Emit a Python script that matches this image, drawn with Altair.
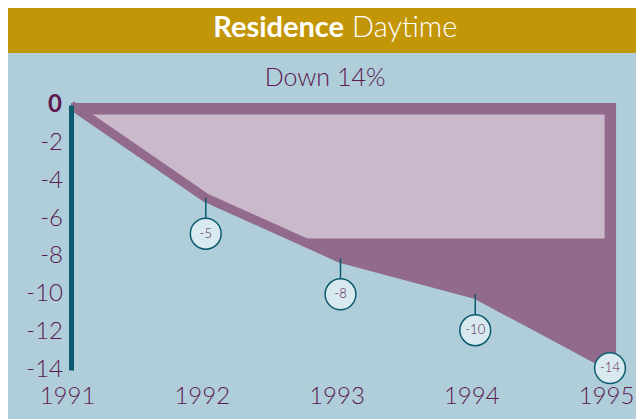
import altair as alt
import pandas as pd

# ---- data ----
years = [1991, 1992, 1993, 1994, 1995]
change = [0.0, -4.9, -8.1, -10.0, -13.8]
callout_labels = ["", "-5", "-8", "-10", "-14"]
y_ticks = [0, -2, -4, -6, -8, -10, -12, -14]
y_tick_labels = ["0", "-2", "-4", "-6", "-8", "-10", "-12", "-14"]
header_bold = "Residence"
header_light = "Daytime"
subtitle = "Down 14%"

# ---- styles ----
FONT = "Lato"
BG = "#AFCEDA"
GOLD = "#C29606"
DARK = "#916A8C"
LIGHT = "#CAB8CB"
TEAL = "#0B5A6E"
PURPLE = "#5C1A50"
CIRCLE_FILL = "#D8E9EF"

# decorative frame / inner panel extents (data units)
FRAME = {"year": 1991, "year2": 1995.045, "change": 0.1, "change2": -13.6}
INNER = {"year": 1991, "year2": 1994.96, "change": -0.5, "change2": -7.05}

df = pd.DataFrame({"year": years, "change": change, "label": callout_labels})
ticks_df = pd.DataFrame({"change": y_ticks, "txt": y_tick_labels})
one = pd.DataFrame({"k": [0]})

xs = alt.X("year:Q", title=None,
           scale=alt.Scale(domain=[1991, 1995], nice=False, zero=False),
           axis=alt.Axis(values=years, format="d", labelOffset=-4, labelFlush=False,
                         labelOverlap=False,
                         domain=False, ticks=False, grid=False, labelPadding=14))
ys = alt.Y("change:Q", title=None,
           scale=alt.Scale(domain=[-14, 0], nice=False),
           axis=alt.Axis(values=y_ticks, labels=False,
                         domain=True, domainColor=TEAL, domainWidth=5,
                         ticks=False, grid=False, zindex=1))

frame = alt.Chart(pd.DataFrame([FRAME])).mark_rect(color=DARK).encode(
    x=xs, x2="year2:Q", y=ys, y2="change2:Q")

inner = alt.Chart(pd.DataFrame([INNER])).mark_rect(color=LIGHT).encode(
    x=alt.X("year:Q", title=None), x2="year2:Q",
    y=alt.Y("change:Q", title=None), y2="change2:Q")

mask = alt.Chart(df).transform_calculate(floor="-14").mark_area(color=BG).encode(
    x=alt.X("year:Q", title=None), y=alt.Y("change:Q", title=None), y2="floor:Q")

band = alt.Chart(df).mark_line(color=DARK, strokeWidth=9, strokeCap="butt",
                               strokeJoin="bevel").encode(
    x=alt.X("year:Q", title=None), y=alt.Y("change:Q", title=None))

callouts = alt.Chart(df).transform_filter("datum.label != ''").transform_calculate(
    cy="datum.year == 1995 ? datum.change - 0.1 : datum.change - 1.9")

stems = callouts.mark_rule(color=TEAL, strokeWidth=1.5).encode(
    x=alt.X("year:Q", title=None), y=alt.Y("change:Q", title=None), y2="cy:Q")

circles = callouts.mark_circle(size=950, color=CIRCLE_FILL, stroke=TEAL,
                               strokeWidth=1.5, opacity=1).encode(
    x=alt.X("year:Q", title=None), y=alt.Y("cy:Q", title=None))

circle_text = callouts.mark_text(font=FONT, fontSize=13, fontWeight=300,
                                 color=PURPLE, baseline="middle").encode(
    x=alt.X("year:Q", title=None), y=alt.Y("cy:Q", title=None), text="label:N")

# y tick labels (bold zero, light others) placed through the y scale
tick_base = alt.Chart(ticks_df).transform_calculate(year=str(years[0]))
ytick_zero = tick_base.transform_filter("datum.change == 0").mark_text(
    font=FONT, fontSize=24, fontWeight="bold", color=PURPLE,
    align="right", baseline="middle", dx=-9).encode(
    x=alt.X("year:Q", title=None), y=alt.Y("change:Q", title=None), text="txt:N")
ytick_rest = tick_base.transform_filter("datum.change != 0").mark_text(
    font=FONT, fontSize=24, fontWeight=300, color=PURPLE,
    align="right", baseline="middle", dx=-8).encode(
    x=alt.X("year:Q", title=None), y=alt.Y("change:Q", title=None), text="txt:N")

header = alt.Chart(one).mark_rect(color=GOLD).encode(
    x=alt.value(-63), x2=alt.value(565), y=alt.value(-97), y2=alt.value(-52))

head_b = alt.Chart(one).mark_text(text=header_bold, font=FONT, fontSize=29,
                                  fontWeight="bold", color="white",
                                  align="right", baseline="middle").encode(
    x=alt.value(273), y=alt.value(-77))

head_l = alt.Chart(one).mark_text(text=header_light, font=FONT, fontSize=29,
                                  fontWeight=300, color="white",
                                  align="left", baseline="middle").encode(
    x=alt.value(281), y=alt.value(-77))

sub = alt.Chart(one).mark_text(text=subtitle, font=FONT, fontSize=25,
                               fontWeight=300, color=PURPLE,
                               align="center", baseline="middle").encode(
    x=alt.value(254), y=alt.value(-27))

chart = alt.layer(
    frame, inner, mask, band, stems, circles, circle_text,
    ytick_zero, ytick_rest, header, head_b, head_l, sub
).properties(
    width=539, height=265,
    autosize=alt.AutoSizeParams(type="none"),
    padding={"left": 63, "top": 97, "right": 26, "bottom": 49},
    background=BG,
).configure_view(stroke=None).configure_axis(
    labelFont=FONT, labelColor=PURPLE, labelFontSize=24, labelFontWeight=300,
    labelOverlap=False, labelFlush=False,
)

chart.save("out.html", embed_options={"renderer": "svg", "actions": False})
